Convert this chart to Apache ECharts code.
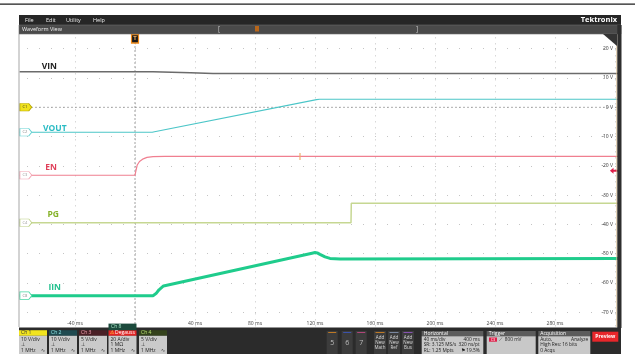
<!DOCTYPE html>
<html><head><meta charset="utf-8">
<script src="https://cdn.jsdelivr.net/npm/echarts/dist/echarts.min.js"></script>
<style>html,body{margin:0;padding:0;background:#fff;overflow:hidden}#c{width:635px;height:354px}</style>
</head><body><div id="c"></div>
<script>
// ---- data (display volts on the right-hand axis, time in ms) ----
const timeLabels = [-40, 40, 80, 120, 160, 200, 240, 280];
const voltLabels = [20, 10, 0, -10, -20, -30, -40, -50, -60, -70];

const vinT  = [-77, 12, 13, 37, 52, 322];
const vinV  = [12.15, 12.15, 11.85, 11.8, 11.5, 11.5];
const voutT = [-77, 11.5, 13, 121, 123, 322];
const voutV = [-8.53, -8.53, -8.35, 2.6, 2.73, 2.73];
const enT   = [-77, 0, 0.7, 1.5, 3, 5.5, 8, 12, 20, 322];
const enV   = [-23.2, -23.2, -21.5, -19.7, -18.5, -17.6, -17.1, -16.85, -16.8, -16.8];
const pgT   = [-77, 144, 144.2, 322];
const pgV   = [-39.4, -39.4, -32.8, -32.8];
const iinT  = [-77, 12, 14, 16, 19, 118, 120, 121.5, 123.3, 126.7, 130, 136.7, 322];
const iinV  = [-64.3, -64.3, -63.6, -62.3, -61.0, -49.8, -49.6, -49.7, -50.2, -51.05, -51.6, -51.8, -51.6];
const refT  = [-72, 322];
const refV  = [0, 0];
const trigT = [0, 0];
const trigV = [25, -74];

const pairs = (t, v) => t.map((x, i) => [x, v[i]]);
const FONT = 'Open Sans';

const badgePath = 'path://M0,0L9,0L12,4L9,8L0,8Z';
function badge(level, txt, fill, border, tc) {
  return {coord: [-72.8, level], symbol: badgePath, symbolSize: [12, 7.5],
    itemStyle: {color: fill, borderColor: border, borderWidth: 0.8},
    label: {show: true, formatter: txt, fontSize: 4, color: tc, fontFamily: FONT, offset: [-1, 0]}};
}
function nameLabel(x, y, txt, color) {
  return {coord: [x, y], symbol: 'circle', symbolSize: 1, itemStyle: {color: 'rgba(0,0,0,0)'},
    label: {show: true, formatter: txt, fontSize: 8.5, fontWeight: 'bold', color: color, fontFamily: FONT}};
}
function line(name, t, v, color, width, extra) {
  return Object.assign({name, type: 'line', data: pairs(t, v), showSymbol: false, symbol: 'none',
    lineStyle: {color, width}, z: 3, silent: true}, extra || {});
}

const series = [
  line('ref', refT, refV, '#9a9a9a', 0.8, {lineStyle: {color: '#9a9a9a', width: 0.8, type: [2, 2]},
    markPoint: {data: [badge(0, 'C1', '#f0e21e', '#b8a800', '#333')]}}),
  line('trig', trigT, trigV, '#8a8a8a', 0.8, {lineStyle: {color: '#8a8a8a', width: 0.8, type: [2, 2]},
    markPoint: {data: [
      {coord: [0, 23.4], symbol: 'rect', symbolSize: [7, 8.5], itemStyle: {color: '#1a1a1a', borderColor: '#f08a1a', borderWidth: 1.3},
       label: {show: true, formatter: 'T', fontSize: 6, fontWeight: 'bold', color: '#f5b060', fontFamily: FONT}},
      {coord: [0, 25.6], symbol: 'triangle', symbolRotate: 180, symbolSize: [6, 3], itemStyle: {color: '#f08a1a'}}
    ]}}),
  line('VIN', vinT, vinV, '#6b6b6b', 1.5, {markPoint: {data: [nameLabel(-57.1, 14.0, 'VIN', '#1e1e1e')]}}),
  line('VOUT', voutT, voutV, '#4cc6c8', 1.2, {markPoint: {data: [
    nameLabel(-53.5, -7.2, 'VOUT', '#2bbcc4'), badge(-8.53, 'C2', '#ffffff', '#62d2d2', '#888')]}}),
  line('EN', enT, enV, '#f07f90', 1.2, {markPoint: {data: [
    nameLabel(-56, -20.7, 'EN', '#e0405a'), badge(-23.2, 'C3', '#ffffff', '#f2a4b2', '#999'),
    {coord: [110, -16.8], symbol: 'rect', symbolSize: [1.2, 7], itemStyle: {color: '#f0b070'}},
    {coord: [319.3, -21.7], symbol: 'path://M0,3L4,0L4,2L9,2L9,4L4,4L4,6Z', symbolSize: [8, 6], itemStyle: {color: '#e0204a'}}
  ]}}),
  line('PG', pgT, pgV, '#c6d792', 1.5, {markPoint: {data: [
    nameLabel(-54.5, -36.6, 'PG', '#86b22a'), badge(-39.4, 'C4', '#ffffff', '#bcd084', '#999')]}}),
  line('IIN', iinT, iinV, '#1fcc8c', 3, {markPoint: {data: [
    nameLabel(-53.5, -61.7, 'IIN', '#22c08e'), badge(-64.3, 'C8', '#ffffff', '#48d8a4', '#888')]}})
];
series.forEach(s => { if (s.markPoint) { s.markPoint.animation = false; s.markPoint.silent = true; } });

// ---- chrome ----
const G = [];
const Z = 100;
function R(x, y, w, h, fill, stroke, lw) { G.push({type: 'rect', z: Z, silent: true, shape: {x, y, width: w, height: h}, style: {fill, stroke: stroke || null, lineWidth: lw || 0}}); }
function T(x, y, s, o) { o = o || {}; G.push({type: 'text', z: Z + 1, silent: true, x, y, style: {text: s, fill: o.c || '#222', font: (o.b ? 'bold ' : '') + (o.s || 5) + 'px "' + FONT + '"', textAlign: o.a || 'left', textVerticalAlign: 'middle'}}); }

R(0, 3.4, 635, 1.3, '#1c1c1c');
R(0, 34, 18.5, 294, '#ffffff');
R(18.5, 34, 1, 293, '#a8a8a8');
R(616.4, 34, 0.8, 293, '#d6b98c');
// menu bar
R(19, 15, 602, 10, '#262626');
T(25, 20, 'File', {c: '#eee', s: 5.5}); T(46, 20, 'Edit', {c: '#eee', s: 5.5});
T(66, 20, 'Utility', {c: '#eee', s: 5.5}); T(93, 20, 'Help', {c: '#eee', s: 5.5});
T(617, 20, 'Tektronix', {c: '#fff', s: 7.5, b: true, a: 'right'});
// waveform view bar
R(19, 25, 602, 9, '#4a4a4a', '#6c6c6c', 0.6);
T(22, 29.5, 'Waveform View', {c: '#f0f0f0', s: 5.5});
T(218, 29.5, '[', {c: '#c8c8c8', s: 6.5}); T(416, 29.5, ']', {c: '#c8c8c8', s: 6.5});
R(255, 26, 4, 5.5, '#b8661a');
// right strip
R(617.3, 25, 4.2, 303, '#2e2e2e');
G.push({type: 'polygon', z: Z, silent: true, shape: {points: [[603, 34], [617, 34], [617, 46]]}, style: {fill: '#333'}});
// bottom panel
R(19, 327.5, 602, 27, '#2b2b2b');
const chans = [
  {x: 19, n: 'Ch 1', hf: '#f2e41e', hc: '#333', l: ['10 V/div', '⊥', '1 MHz']},
  {x: 49, n: 'Ch 2', hf: '#1f4a50', hc: '#8fe6e6', l: ['10 V/div', '⊥', '1 MHz']},
  {x: 79, n: 'Ch 3', hf: '#4a2026', hc: '#f2a0b0', l: ['5 V/div', '⊥', '1 MHz']},
  {x: 108.5, n: '', hf: '#e42424', hc: '#fff', l: ['20 A/div', '1 MΩ', '1 MHz']},
  {x: 139, n: 'Ch 4', hf: '#34421c', hc: '#b8e070', l: ['5 V/div', '⊥', '1 MHz']}
];
chans.forEach(c => {
  R(c.x, 330.2, 28, 5.6, c.hf);
  R(c.x, 335.8, 28, 19, '#cacaca');
  if (c.n) T(c.x + 2, 333, c.n, {c: c.hc, s: 5});
  T(c.x + 2, 339.5, c.l[0], {c: '#222', s: 5});
  T(c.x + 2, 345, c.l[1], {c: '#222', s: 5});
  T(c.x + 2, 350.5, c.l[2], {c: '#222', s: 5});
  T(c.x + 22, 350.5, '∿', {c: '#333', s: 5});
});
R(108.5, 323.6, 28, 6.6, '#1c4a3c');
T(111, 327, 'Ch 8', {c: '#a8e8c8', s: 5});
T(110, 333, '⚠', {c: '#ffe040', s: 5});
T(115, 333, 'Degauss', {c: '#fff', s: 5});
// math/ref buttons
[[326.7, '5', '#e08a20'], [341.7, '6', '#3c58c8'], [355.7, '7', '#d0488a']].forEach(b => {
  R(b[0], 331, 11, 23, '#3c3c3c'); R(b[0] + 1.5, 332, 8, 0.8, b[2]);
  T(b[0] + 5.5, 342.5, b[1], {c: '#bdbdbd', s: 7, a: 'center'});
});
[[374, 'Math', '#e08a20'], [388, 'Ref', '#8a9ab8'], [402, 'Bus', '#9a58d0']].forEach(b => {
  R(b[0], 331, 12, 23, '#3c3c3c'); R(b[0] + 1.5, 332, 9, 0.8, b[2]);
  T(b[0] + 6, 337.5, 'Add', {c: '#ddd', s: 4.5, a: 'center'});
  T(b[0] + 6, 342.5, 'New', {c: '#ddd', s: 4.5, a: 'center'});
  T(b[0] + 6, 347.5, b[1], {c: '#ddd', s: 4.5, a: 'center'});
});
function panel(x, w, title, lines) {
  R(x, 331, w, 5.2, '#5c5c5c'); R(x, 336.2, w, 18, '#c8c8c8');
  T(x + 2, 333.6, title, {c: '#fff', s: 5});
  lines.forEach((ln, i) => ln.forEach(p => T(x + p[0], 339.5 + i * 5.5, p[1], {c: '#222', s: 4.8, a: p[2] || 'left'})));
}
panel(421.7, 61.6, 'Horizontal', [[[2, '40 ms/div'], [58, '400 ms', 'right']], [[2, 'SR: 3.125 MS/s'], [58, '320 ns/pt', 'right']], [[2, 'RL: 1.25 Mpts'], [58, '⚑ 19.5%', 'right']]]);
panel(486.7, 49, 'Trigger', [[[12, '⟋'], [18, '800 mV']]]);
R(489, 337.5, 8, 4.2, '#e0204a'); T(493, 339.6, 'C3', {c: '#fff', s: 3.8, a: 'center'});
panel(538.3, 52, 'Acquisition', [[[2, 'Auto,'], [50, 'Analyze', 'right']], [[2, 'High Res: 16 bits']], [[2, '0 Acqs']]]);
R(592.3, 331.7, 26, 10, '#e8262a');
T(605.3, 336.7, 'Preview', {c: '#fff', s: 5, b: true, a: 'center'});

const chart = echarts.init(document.getElementById('c'), null, {renderer: 'canvas'});
chart.setOption({
  animation: false,
  backgroundColor: '#ffffff',
  grid: {left: 15, right: 17, top: 19.35, bottom: 12.35, containLabel: false},
  xAxis: {type: 'value', min: -80, max: 322, interval: 40,
    axisLine: {show: false}, axisTick: {show: false},
    splitLine: {show: true, showMinLine: false, showMaxLine: false, lineStyle: {color: '#c4c4c4', width: 1, type: [1, 5]}},
    axisLabel: {inside: true, margin: 16, fontSize: 5, color: '#444', fontFamily: FONT,
      formatter: v => timeLabels.includes(v) ? v + ' ms' : ''}},
  yAxis: {type: 'value', position: 'right', min: -80, max: 30, interval: 10,
    axisLine: {show: false}, axisTick: {show: false},
    splitLine: {show: true, showMinLine: false, showMaxLine: false, lineStyle: {color: '#c4c4c4', width: 1, type: [1, 11]}},
    axisLabel: {inside: true, margin: 5, fontSize: 5, color: '#333', fontFamily: FONT,
      formatter: v => voltLabels.includes(v) ? v + ' V' : ''}},
  series: series,
  graphic: G
});
</script></body></html>
